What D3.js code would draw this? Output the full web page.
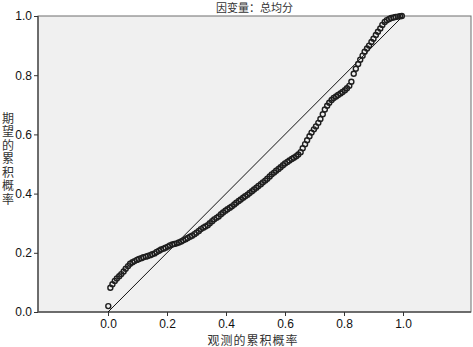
<!DOCTYPE html>
<html>
<head>
<meta charset="utf-8">
<script src="https://cdn.jsdelivr.net/npm/d3@7"></script>
<style>
html,body{margin:0;padding:0;background:#fff;}
svg{display:block;}
</style>
</head>
<body>
<svg id="chart" width="473" height="347"></svg>
<script>
const title = "因变量：总均分";
const xLabel = "观测的累积概率";
const yLabel = "期望的累积概率";
const xTicks = [0.0, 0.2, 0.4, 0.6, 0.8, 1.0];
const yTicks = [0.0, 0.2, 0.4, 0.6, 0.8, 1.0];

const observed = [0.001,
0.008,0.015,0.023,0.030,0.038,0.045,0.053,0.060,0.068,0.075,
0.083,0.090,0.098,0.105,0.113,0.120,0.128,0.135,0.143,0.150,
0.158,0.165,0.173,0.180,0.188,0.195,0.203,0.210,0.218,0.225,
0.233,0.240,0.248,0.255,0.263,0.270,0.278,0.285,0.293,0.300,
0.308,0.315,0.323,0.330,0.338,0.345,0.353,0.360,0.368,0.375,
0.383,0.390,0.398,0.405,0.413,0.420,0.428,0.435,0.443,0.450,
0.458,0.465,0.473,0.480,0.488,0.495,0.503,0.510,0.518,0.525,
0.533,0.540,0.548,0.555,0.563,0.570,0.578,0.585,0.593,0.600,
0.608,0.615,0.623,0.630,0.638,0.645,0.653,0.660,0.668,0.675,
0.683,0.690,0.698,0.705,0.713,0.720,0.728,0.735,0.743,0.750,
0.758,0.765,0.773,0.780,0.788,0.795,0.803,0.810,0.818,0.825,
0.833,0.840,0.848,0.855,0.863,0.870,0.878,0.885,0.893,0.900,
0.908,0.915,0.923,0.930,0.938,0.945,0.953,0.960,0.968,0.975,
0.983,0.990,0.996];

const expected = [0.020,
0.082,0.094,0.105,0.113,0.121,0.128,0.137,0.146,0.155,0.163,
0.168,0.172,0.176,0.179,0.182,0.185,0.187,0.189,0.192,0.195,
0.198,0.203,0.207,0.211,0.214,0.217,0.221,0.225,0.228,0.230,
0.232,0.235,0.238,0.242,0.246,0.250,0.254,0.258,0.263,0.268,
0.274,0.280,0.285,0.289,0.293,0.300,0.307,0.313,0.318,0.323,
0.330,0.336,0.342,0.347,0.352,0.357,0.363,0.369,0.375,0.380,
0.386,0.391,0.396,0.402,0.408,0.414,0.420,0.426,0.432,0.438,
0.444,0.450,0.458,0.465,0.471,0.477,0.483,0.489,0.496,0.502,
0.507,0.512,0.517,0.521,0.526,0.532,0.540,0.553,0.567,0.580,
0.594,0.606,0.617,0.627,0.639,0.652,0.668,0.684,0.697,0.707,
0.716,0.723,0.728,0.733,0.738,0.743,0.749,0.756,0.764,0.778,
0.805,0.822,0.838,0.852,0.866,0.879,0.890,0.900,0.912,0.923,
0.936,0.947,0.958,0.970,0.980,0.986,0.990,0.993,0.995,0.997,
0.998,0.999,1.000];

const svg = d3.select("#chart");
const mLeft = 38, mRight = 471, mTop = 16, mBottom = 312;

const x = d3.scaleLinear().domain([0, 1]).range([108, 403]);
const y = d3.scaleLinear().domain([0, 1]).range([mBottom, mTop]);

// plot background
svg.append("rect")
  .attr("x", mLeft).attr("y", mTop)
  .attr("width", mRight - mLeft).attr("height", mBottom - mTop)
  .attr("fill", "#f0f0f0")
  .attr("stroke", "#6e6e6e").attr("stroke-width", 1);

const fontTick = "'Liberation Sans', Arial, sans-serif";
const fontCJK = "'Noto Sans CJK SC', sans-serif";

// Y axis
const yAxis = d3.axisLeft(y).tickValues(yTicks).tickFormat(d3.format(".1f")).tickSize(4).tickPadding(2);
const gy = svg.append("g").attr("transform", `translate(${mLeft},0)`).call(yAxis);
gy.select(".domain").attr("stroke", "#555").attr("stroke-width", 1.5)
  .attr("d", `M0,${mTop}V${mBottom}`);
gy.selectAll(".tick line").attr("stroke", "#333");
gy.selectAll(".tick text").attr("font-family", fontTick).attr("font-size", 12).attr("fill", "#111");

// X axis
const xAxis = d3.axisBottom(x).tickValues(xTicks).tickFormat(d3.format(".1f")).tickSize(4).tickPadding(3);
const gx = svg.append("g").attr("transform", `translate(0,${mBottom})`).call(xAxis);
gx.select(".domain").attr("stroke", "#555").attr("stroke-width", 1.5)
  .attr("d", `M${mLeft},0H${mRight}`);
gx.selectAll(".tick line").attr("stroke", "#333");
gx.selectAll(".tick text").attr("font-family", fontTick).attr("font-size", 12).attr("fill", "#111");

// diagonal reference line
svg.append("line")
  .attr("x1", x(0)).attr("y1", y(0))
  .attr("x2", x(1)).attr("y2", y(1))
  .attr("stroke", "#111").attr("stroke-width", 1);

// points
const pts = observed.map((d, i) => ({o: d, e: expected[i]}));
svg.append("g").selectAll("circle").data(pts).join("circle")
  .attr("cx", d => x(d.o)).attr("cy", d => y(d.e))
  .attr("r", 2.5)
  .attr("fill", "none")
  .attr("stroke", "#1e1e1e")
  .attr("stroke-width", 1.4);

// title
svg.append("text")
  .attr("x", (mLeft + mRight) / 2).attr("y", 12)
  .attr("text-anchor", "middle")
  .attr("font-family", fontCJK).attr("font-size", 11)
  .attr("fill", "#333")
  .text(title);

// x label
svg.append("text")
  .attr("x", 253).attr("y", 345)
  .attr("text-anchor", "middle")
  .attr("font-family", fontCJK).attr("font-size", 12)
  .attr("fill", "#333")
  .style("letter-spacing", "1px")
  .text(xLabel);

// y label (vertical)
svg.append("text")
  .attr("x", 8).attr("y", 112)
  .attr("font-family", fontCJK).attr("font-size", 12)
  .attr("fill", "#333")
  .style("writing-mode", "vertical-rl")
  .style("text-orientation", "upright")
  .style("letter-spacing", "1.5px")
  .text(yLabel);
</script>
</body>
</html>
